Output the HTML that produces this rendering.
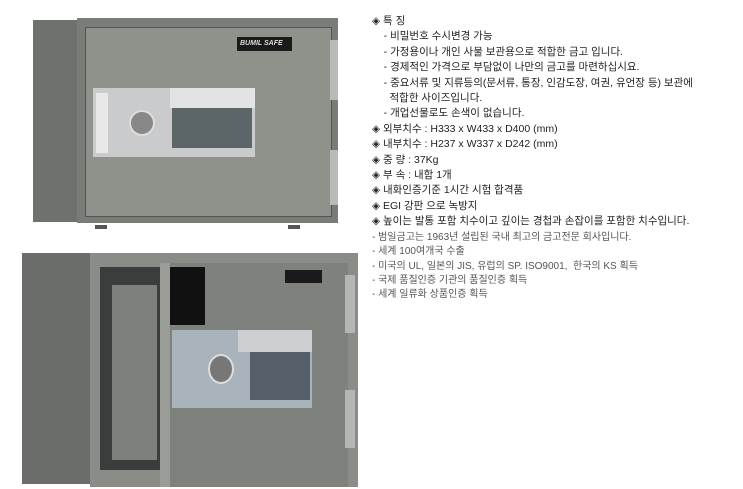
<!DOCTYPE html>
<html><head><meta charset="utf-8"><style>
body{margin:0;width:743px;height:489px;background:#fff;position:relative;overflow:hidden;font-family:"Liberation Sans","Noto Sans CJK KR",sans-serif}
.a{position:absolute}
.t{position:absolute;left:372px;font-size:10.5px;color:#222;line-height:15.4px;white-space:nowrap}
.t2{position:absolute;left:372px;font-size:10px;color:#555;line-height:14.3px;white-space:nowrap}
</style></head><body>
<!-- top safe -->
<div class="a" style="left:33px;top:20px;width:46px;height:202px;background:#6f716e"></div>
<div class="a" style="left:77px;top:18px;width:261px;height:205px;background:#7a7c78"></div>
<div class="a" style="left:85px;top:27px;width:245px;height:188px;background:#8f918b;border:1px solid #555"></div>
<div class="a" style="left:237px;top:37px;width:55px;height:14px;background:#1a1a1a;color:#ddd;font-size:7px;font-style:italic;font-weight:bold;line-height:14px;text-indent:3px">BUMIL SAFE</div>
<div class="a" style="left:330px;top:40px;width:8px;height:60px;background:#b9bbb8"></div>
<div class="a" style="left:330px;top:150px;width:8px;height:55px;background:#b9bbb8"></div>
<div class="a" style="left:95px;top:225px;width:12px;height:4px;background:#555"></div>
<div class="a" style="left:288px;top:225px;width:12px;height:4px;background:#555"></div>
<div class="a" style="left:93px;top:88px;width:162px;height:69px;background:#c9cbcc"></div>
<div class="a" style="left:96px;top:93px;width:12px;height:60px;background:#e8e8e8"></div>
<div class="a" style="left:170px;top:88px;width:85px;height:20px;background:#e2e3e4"></div>
<div class="a" style="left:172px;top:108px;width:80px;height:40px;background:#5c6668"></div>
<div class="a" style="left:129px;top:110px;width:26px;height:26px;border-radius:50%;background:#888;border:2px solid #ddd;box-sizing:border-box"></div>
<!-- bottom safe -->
<div class="a" style="left:22px;top:253px;width:70px;height:231px;background:#6b6d6a"></div>
<div class="a" style="left:90px;top:253px;width:268px;height:234px;background:#8a8c88"></div>
<div class="a" style="left:100px;top:267px;width:62px;height:203px;background:#3b3d3c"></div>
<div class="a" style="left:112px;top:285px;width:45px;height:175px;background:#7e807c"></div>
<div class="a" style="left:160px;top:263px;width:12px;height:224px;background:#9a9c98"></div>
<div class="a" style="left:170px;top:263px;width:178px;height:224px;background:#7f817d"></div>
<div class="a" style="left:170px;top:267px;width:35px;height:58px;background:#111"></div>
<div class="a" style="left:285px;top:270px;width:37px;height:13px;background:#1a1a1a"></div>
<div class="a" style="left:345px;top:275px;width:10px;height:58px;background:#b4b6b3"></div>
<div class="a" style="left:345px;top:390px;width:10px;height:58px;background:#b4b6b3"></div>
<div class="a" style="left:172px;top:330px;width:140px;height:78px;background:#a8b3bb"></div>
<div class="a" style="left:238px;top:330px;width:74px;height:22px;background:#ccd0d3"></div>
<div class="a" style="left:250px;top:352px;width:60px;height:48px;background:#55606a"></div>
<div class="a" style="left:208px;top:354px;width:26px;height:30px;border-radius:50%;background:#777;border:2px solid #ddd;box-sizing:border-box"></div>
<!-- text -->
<div class="t" style="top:14px">◈ 특 징<br>&nbsp;&nbsp;&nbsp;&nbsp;- 비밀번호 수시변경 가능<br>&nbsp;&nbsp;&nbsp;&nbsp;- 가정용이나 개인 사물 보관용으로 적합한 금고 입니다.<br>&nbsp;&nbsp;&nbsp;&nbsp;- 경제적인 가격으로 부담없이 나만의 금고를 마련하십시요.<br>&nbsp;&nbsp;&nbsp;&nbsp;- 중요서류 및 지류등의(문서류, 통장, 인감도장, 여권, 유언장 등) 보관에<br>&nbsp;&nbsp;&nbsp;&nbsp;&nbsp;&nbsp;적합한 사이즈입니다.<br>&nbsp;&nbsp;&nbsp;&nbsp;- 개업선물로도 손색이 없습니다.<br>◈ 외부치수 : H333 x W433 x D400 (mm)<br>◈ 내부치수 : H237 x W337 x D242 (mm)<br>◈ 중 량 : 37Kg<br>◈ 부 속 : 내함 1개<br>◈ 내화인증기준 1시간 시험 합격품<br>◈ EGI 강판 으로 녹방지<br>◈ 높이는 발통 포함 치수이고 깊이는 경첩과 손잡이를 포함한 치수입니다.</div>
<div class="t2" style="top:231px">- 범일금고는 1963년 설립된 국내 최고의 금고전문 회사입니다.<br>- 세계 100여개국 수출<br>- 미국의 UL, 일본의 JIS, 유럽의 SP. ISO9001, &nbsp;한국의 KS 획득<br>- 국제 품질인증 기관의 품질인증 획득<br>- 세계 일류화 상품인증 획득</div>
</body></html>
